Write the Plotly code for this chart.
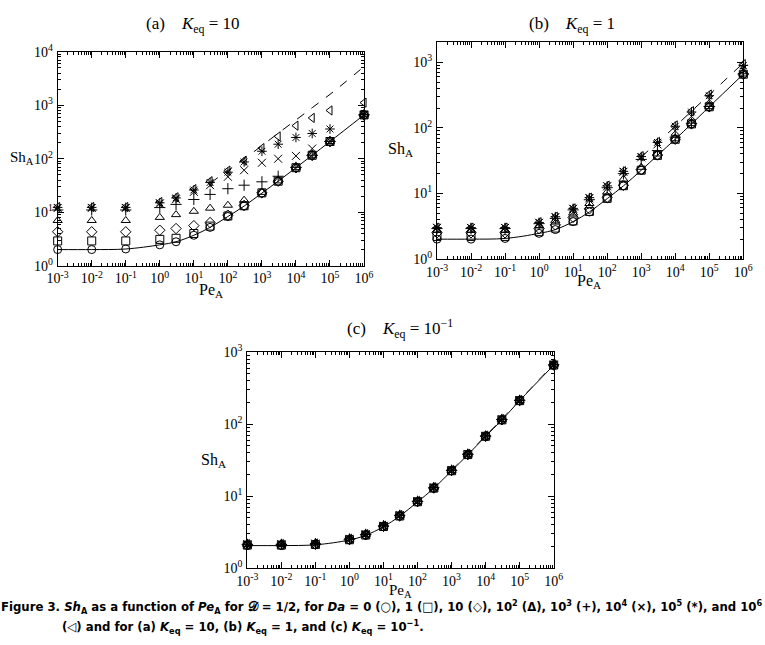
import plotly.graph_objects as go

# ---------------- data ----------------
PE = [1e-3, 1e-2, 1e-1, 1, 3, 10, 30, 100, 300, 1e3, 3e3, 1e4, 3e4, 1e5, 1e6]

# Panel (a)  K_eq = 10
A_DA0 = [2.0, 2.0, 2.05, 2.45, 2.8, 3.7, 5.2, 8.3, 13.0, 22.8, 38, 68, 116, 210, 660]
A_DA1 = [2.9, 2.9, 2.9, 3.1, 3.25, 4.0, 5.5, 8.5, 13.2, 23, 38, 68, 116, 210, 660]
A_DA10 = [4.3, 4.3, 4.3, 4.6, 4.95, 5.6, 6.4, 8.8, 13.4, 23, 38, 68, 116, 210, 660]
A_DA1E2 = [7.0, 7.0, 7.0, 8.0, 9.0, 10.4, 11.9, 13.5, 16.8, 23.5, 38.5, 68, 116, 210, 660]
A_DA1E3 = [11.0, 11.0, 11.0, 12.2, 14.0, 17.3, 21.5, 27.5, 32, 37, 47, 69, 116, 210, 660]
A_DA1E4 = [12.0, 12.0, 12.0, 14.5, 17.5, 24, 32, 46, 61, 84, 100, 113, 155, 212, 660]
A_DA1E5 = [12.3, 12.3, 12.3, 15.0, 18.5, 26, 36, 56, 87, 138, 187, 250, 297, 360, 670]
A_DA1E6 = [12.5, 12.5, 12.5, 15.5, 19, 27, 38, 60, 92, 158, 262, 415, 580, 800, 1120]
A_DASH_PE = [30, 100, 300, 1e3, 3e3, 1e4, 3e4, 1e5, 3e5, 1e6]
A_DASH_SH = [35, 60, 100, 175, 300, 530, 900, 1600, 2800, 5300]

# Panel (b)  K_eq = 1
B_DA0 = [2.0, 2.0, 2.05, 2.45, 2.8, 3.7, 5.2, 8.3, 13.0, 22.5, 38, 67, 115, 210, 660]
B_DA1 = [2.2, 2.2, 2.2, 2.6, 2.95, 3.8, 5.3, 8.4, 13.1, 22.6, 38, 67, 115, 210, 660]
B_DA10 = [2.5, 2.5, 2.5, 2.9, 3.3, 4.3, 5.8, 8.7, 13.3, 23, 38.5, 67, 115, 210, 660]
B_DA1E2 = [2.75, 2.75, 2.75, 3.2, 3.8, 5.0, 7.0, 10.5, 16.5, 25, 40, 68, 116, 211, 665]
B_DA1E3 = [2.9, 2.9, 2.9, 3.45, 4.15, 5.6, 8.0, 12.2, 20, 33, 45, 72, 118, 212, 670]
B_DA1E4 = [2.97, 2.97, 2.97, 3.55, 4.3, 5.8, 8.4, 12.8, 21.3, 35.5, 56, 90, 150, 270, 800]
B_DA1E5 = [3.0, 3.0, 3.0, 3.6, 4.4, 5.9, 8.6, 13.0, 21.7, 36.5, 60, 106, 175, 310, 900]
B_DA1E6 = [3.0, 3.0, 3.0, 3.63, 4.4, 5.9, 8.6, 13.1, 21.8, 37, 61, 109, 180, 323, 940]
B_DASH_PE = [1e3, 3e3, 1e4, 3e4, 1e5, 1e6]
B_DASH_SH = [36, 60, 105, 180, 320, 980]

# Panel (c)  K_eq = 0.1
C_DA0 = [2.05, 2.05, 2.1, 2.45, 2.85, 3.75, 5.25, 8.3, 12.8, 22.4, 37.5, 67.5, 114, 212, 660]
C_DA1 = [2.08, 2.08, 2.12, 2.47, 2.87, 3.77, 5.28, 8.33, 12.9, 22.5, 37.7, 67.7, 114.5, 212, 662]
C_DA10 = [2.1, 2.1, 2.14, 2.49, 2.89, 3.79, 5.3, 8.36, 12.95, 22.6, 37.8, 67.9, 115, 213, 664]
C_DA1E2 = [2.12, 2.12, 2.16, 2.51, 2.91, 3.82, 5.35, 8.4, 13.0, 22.7, 38, 68, 115.5, 213, 666]
C_DA1E3 = [2.13, 2.13, 2.17, 2.53, 2.93, 3.85, 5.4, 8.45, 13.1, 22.8, 38.2, 68.3, 116, 214, 668]
C_DA1E4 = [2.14, 2.14, 2.18, 2.54, 2.94, 3.86, 5.42, 8.5, 13.15, 22.9, 38.4, 68.6, 116.5, 215, 670]
C_DA1E5 = [2.15, 2.15, 2.19, 2.55, 2.95, 3.87, 5.44, 8.52, 13.2, 23.0, 38.5, 68.8, 117, 215, 672]
C_DA1E6 = [2.15, 2.15, 2.19, 2.55, 2.95, 3.88, 5.45, 8.55, 13.2, 23.0, 38.6, 69, 117, 216, 674]
C_DASH_PE = [1e3, 3e3, 1e4, 3e4, 1e5, 1e6]
C_DASH_SH = [23, 38.8, 69.5, 118, 217, 685]

SYMBOLS = ["circle-open", "square-open", "diamond-open", "triangle-up-open",
           "cross-thin-open", "x-thin-open", "asterisk-open", "triangle-left-open"]

X_TICKS = [1e-3, 1e-2, 1e-1, 1, 10, 100, 1e3, 1e4, 1e5, 1e6]
X_TICKTEXT = ["10<sup>-3</sup>", "10<sup>-2</sup>", "10<sup>-1</sup>", "10<sup>0</sup>",
              "10<sup>1</sup>", "10<sup>2</sup>", "10<sup>3</sup>", "10<sup>4</sup>",
              "10<sup>5</sup>", "10<sup>6</sup>"]
Y_TICKS = [1, 10, 100, 1e3, 1e4]
Y_TICKTEXT = ["10<sup>0</sup>", "10<sup>1</sup>", "10<sup>2</sup>", "10<sup>3</sup>", "10<sup>4</sup>"]

# ---------------- figure ----------------
SERIF = "Liberation Serif, Times New Roman, serif"
NARROW = "Liberation Sans Narrow, Arial Narrow, DejaVu Sans Condensed, sans-serif"

fig = go.Figure()

panels = [
    ("x", "y", [A_DA0, A_DA1, A_DA10, A_DA1E2, A_DA1E3, A_DA1E4, A_DA1E5, A_DA1E6],
     A_DASH_PE, A_DASH_SH, "black"),
    ("x2", "y2", [B_DA0, B_DA1, B_DA10, B_DA1E2, B_DA1E3, B_DA1E4, B_DA1E5, B_DA1E6],
     B_DASH_PE, B_DASH_SH, "black"),
    ("x3", "y3", [C_DA0, C_DA1, C_DA10, C_DA1E2, C_DA1E3, C_DA1E4, C_DA1E5, C_DA1E6],
     C_DASH_PE, C_DASH_SH, "#555555"),
]

for xa, ya, series, dpe, dsh, dcol in panels:
    # solid curve for Da = 0
    fig.add_trace(go.Scatter(x=PE, y=series[0], mode="lines", xaxis=xa, yaxis=ya,
                             line=dict(color="black", width=1, shape="spline", smoothing=1.0),
                             hoverinfo="skip"))
    # dashed curve for large Da
    fig.add_trace(go.Scatter(x=dpe, y=dsh, mode="lines", xaxis=xa, yaxis=ya,
                             line=dict(color=dcol, width=1, dash="dash", shape="spline"),
                             hoverinfo="skip"))
    for vals, sym in zip(series, SYMBOLS):
        fig.add_trace(go.Scatter(x=PE, y=vals, mode="markers", xaxis=xa, yaxis=ya,
                                 cliponaxis=False,
                                 marker=dict(symbol=sym, size=8, color="black",
                                             line=dict(color="black", width=1))))

def minor_vals(lo, hi):
    return [m * 10.0 ** d for d in range(lo, hi) for m in range(2, 10)]

def xaxis(domain, anchor):
    return dict(type="log", range=[-3, 6], domain=domain, anchor=anchor,
                tickmode="array", tickvals=X_TICKS, ticktext=X_TICKTEXT,
                ticks="inside", ticklen=6, tickwidth=1, tickcolor="black",
                showline=True, linecolor="black", linewidth=1, mirror="ticks",
                showgrid=False, zeroline=False,
                tickfont=dict(family=SERIF, size=14, color="black"),
                minor=dict(tickmode="array", tickvals=minor_vals(-3, 6), ticks="inside",
                           ticklen=3, tickcolor="black", showgrid=False))

def yaxis(domain, anchor, top, ntick):
    return dict(type="log", range=[0, top], domain=domain, anchor=anchor,
                tickmode="array", tickvals=Y_TICKS[:ntick], ticktext=Y_TICKTEXT[:ntick],
                ticks="inside", ticklen=6, tickwidth=1, tickcolor="black",
                showline=True, linecolor="black", linewidth=1, mirror="ticks",
                showgrid=False, zeroline=False, ticklabelstandoff=1,
                tickfont=dict(family=SERIF, size=14, color="black"),
                minor=dict(tickmode="array", tickvals=minor_vals(0, 4), ticks="inside",
                           ticklen=3, tickcolor="black", showgrid=False))

W, H = 765, 645
def px(x):
    return x / W
def py(y):
    return 1 - y / H

fig.update_layout(
    width=W, height=H, margin=dict(l=0, r=0, t=0, b=0),
    paper_bgcolor="white", plot_bgcolor="white", showlegend=False,
    xaxis=xaxis([px(48), px(363)], "y"),
    yaxis=yaxis([py(263), py(43)], "x", 4, 5),
    xaxis2=xaxis([px(438), px(753)], "y2"),
    yaxis2=yaxis([py(256), py(33)], "x2", 3.31, 4),
    xaxis3=xaxis([px(243), px(558)], "y3"),
    yaxis3=yaxis([py(574), py(352)], "x3", 3, 4),
)

ann = []
def add_text(x, y, text, size=16, family=SERIF, xanchor="center"):
    ann.append(dict(x=px(x), y=py(y), xref="paper", yref="paper", text=text,
                    showarrow=False, xanchor=xanchor, yanchor="middle", align="left",
                    borderpad=0,
                    font=dict(family=family, size=size, color="black")))

add_text(187, 15, "(a)\u2003<i>K</i><sub>eq</sub> = 10", size=17)
add_text(577, 15, "(b)\u2003<i>K</i><sub>eq</sub> = 1", size=17)
add_text(400, 328, "(c)\u2003<i>K</i><sub>eq</sub> = 10<sup>\u22121</sup>", size=17)

add_text(25, 152, "Sh<sub>A</sub>", xanchor="right", size=15)
add_text(414, 143, "Sh<sub>A</sub>", xanchor="right")
add_text(222, 463, "Sh<sub>A</sub>", xanchor="right")

add_text(206, 289, "Pe<sub>A</sub>")
add_text(594, 279, "Pe<sub>A</sub>")
add_text(400, 598, "Pe<sub>A</sub>", size=15)

add_text(-11, 614, "<b>Figure 3. <i>Sh</i><sub>A</sub> as a function of <i>Pe</i><sub>A</sub> for "
         "\U0001D49F = 1/2, for <i>Da</i> = 0 (\u25CB), 1 (\u25A1), 10 (\u25C7), "
         "10<sup>2</sup> (\u0394), 10<sup>3</sup> (+), 10<sup>4</sup> (\u00D7), "
         "10<sup>5</sup> (*), and 10<sup>6</sup></b>",
         size=13, family=NARROW, xanchor="left")
add_text(51, 635, "<b>(\u25C1) and for (a) <i>K</i><sub>eq</sub> = 10, (b) <i>K</i><sub>eq</sub> = 1, "
         "and (c) <i>K</i><sub>eq</sub> = 10<sup>\u22121</sup>.</b>",
         size=13, family=NARROW, xanchor="left")

fig.update_layout(annotations=ann)
fig.write_html("out.html")
